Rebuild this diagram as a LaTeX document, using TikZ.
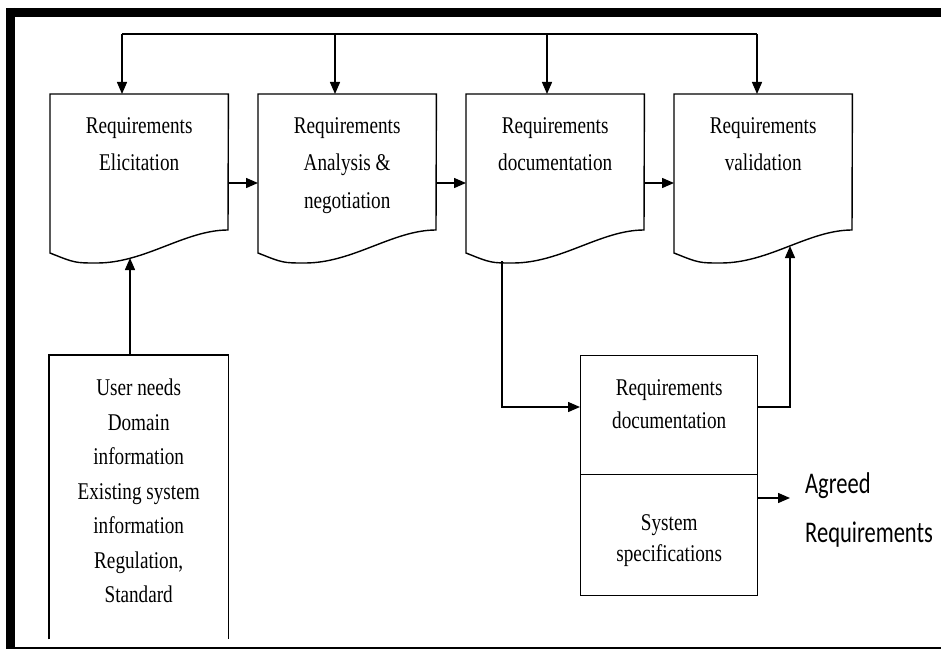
\documentclass[tikz,border=0pt]{standalone}
\usepackage{fontspec}
\setmainfont{Liberation Serif}[FakeStretch=0.8]
\newfontfamily\outfont{Carlito}[FakeStretch=0.75]
\usetikzlibrary{arrows.meta,calc}

\tikzset{
  x=1pt, y=-1pt,
  boxline/.style={line width=1.4pt, line join=miter},
  conn/.style={line width=1.4pt},
  arr/.style={conn, -{Triangle[length=12pt,width=10pt]}},
  frame/.style={line cap=butt},
  docbox/.style={minimum width=178pt, minimum height=159pt, inner sep=0pt,
                 anchor=north west, draw=none},
  plainbox/.style={minimum width=#1, inner sep=0pt, anchor=north west, draw=none},
  boxtext/.style={anchor=north, inner sep=0pt, align=center,
                  font=\fontsize{24}{#1}\selectfont},
}

% outline of a document-shaped box (wavy bottom edge) around a node
\newcommand\docoutline[1]{%
  \draw[boxline] ($(#1.north west)+(0,159)$) -- (#1.north west) -- (#1.north east)
    -- ($(#1.north west)+(178,136)$)
    .. controls ($(#1.north west)+(135,136)$) and ($(#1.north west)+(95,169)$)
    .. ($(#1.north west)+(47,169)$)
    .. controls ($(#1.north west)+(25,169)$) .. cycle;}

\begin{document}
\begin{tikzpicture}
\useasboundingbox (0,0) rectangle (941,650);

% page frame
\draw[frame, line width=8.5pt] (6,12.5) -- (941,12.5);
\draw[frame, line width=9pt] (10.5,8) -- (10.5,649);
\draw[frame, line width=2.5pt] (10,648) -- (941,648);

% process stages
\node[docbox, label={[boxtext=37.5, yshift=-23pt]north:Requirements\\Elicitation}] (elic) at (50,94) {};
\node[docbox, label={[boxtext=37.5, yshift=-23pt]north:Requirements\\Analysis \&\\negotiation}] (anal) at (258,94) {};
\node[docbox, label={[boxtext=37.5, yshift=-23pt]north:Requirements\\documentation}] (docu) at (466,94) {};
\node[docbox, label={[boxtext=37.5, yshift=-23pt]north:Requirements\\validation}] (vali) at (674,94) {};
\docoutline{elic}
\docoutline{anal}
\docoutline{docu}
\docoutline{vali}

% inputs box (open at the bottom)
\node[plainbox=179pt, minimum height=284pt,
      label={[boxtext=34.5, yshift=-24pt]north:User needs\\Domain\\information\\Existing system\\information\\Regulation,\\Standard}] (inputs) at (49,355) {};
\draw[boxline] (inputs.south west) -- (inputs.north west) -- (inputs.north east) -- (inputs.south east);

% documentation / specification box
\node[plainbox=177pt, minimum height=119pt, draw, boxline,
      label={[boxtext=33, yshift=-24pt]north:Requirements\\documentation}] (sysdoc) at (580,355) {};
\node[plainbox=177pt, minimum height=121pt, draw, boxline,
      label={[boxtext=31, yshift=-40pt]north:System\\specifications}] (sysspec) at (580,474) {};

% outcome
\node[anchor=north west, inner sep=0pt, align=left,
      font=\outfont\fontsize{30}{49}\selectfont] (agreed) at (805,472) {Agreed\\Requirements};

% connection points
\coordinate (bus) at (0,34);
\coordinate (elic-top) at ($(elic.north west)+(72,0)$);
\coordinate (anal-top) at ($(anal.north west)+(77,0)$);
\coordinate (docu-top) at ($(docu.north west)+(81,0)$);
\coordinate (vali-top) at ($(vali.north west)+(83,0)$);
\coordinate (elic-in) at ($(elic.north west)+(80,164)$);
\coordinate (docu-out) at ($(docu.north west)+(36,167)$);
\coordinate (vali-in) at ($(vali.north west)+(116,152)$);
\coordinate (sys-in) at ($(sysdoc.north west)+(0,52)$);
\coordinate (sys-out) at ($(sysdoc.north east)+(0,52)$);
\coordinate (spec-out) at ($(sysspec.north east)+(0,24)$);
\coordinate (agreed-in) at ($(agreed.north west)+(-15,26)$);

% feedback bus across the top
\draw[conn] (elic-top |- bus) -- (vali-top |- bus);
\draw[arr] (elic-top |- bus) -- (elic-top);
\draw[arr] (anal-top |- bus) -- (anal-top);
\draw[arr] (docu-top |- bus) -- (docu-top);
\draw[arr] (vali-top |- bus) -- (vali-top);

% stage to stage
\draw[arr] ($(elic.north east)+(0,89)$) -- ($(anal.north west)+(0,89)$);
\draw[arr] ($(anal.north east)+(0,89)$) -- ($(docu.north west)+(0,89)$);
\draw[arr] ($(docu.north east)+(0,89)$) -- ($(vali.north west)+(0,89)$);

% inputs into elicitation
\draw[arr] (elic-in |- inputs.north) -- (elic-in);

% documentation loop through the specification box
\draw[arr] (docu-out) |- (sys-in);
\draw[arr] (sys-out) -| (vali-in);
\draw[arr] (spec-out) -- (agreed-in);
\end{tikzpicture}
\end{document}
